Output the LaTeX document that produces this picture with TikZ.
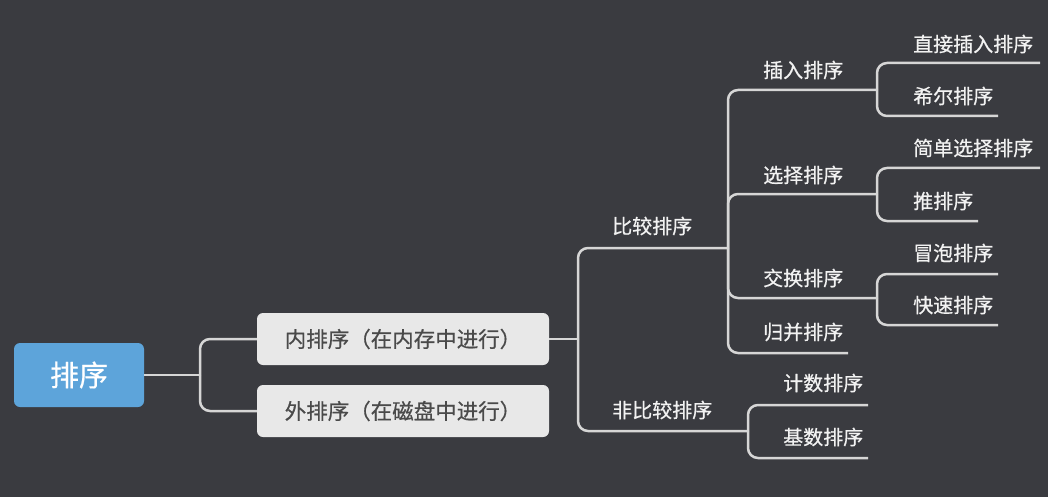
\documentclass[tikz,border=0pt]{standalone}
\usepackage{fontspec}
\newfontfamily\cjk[FakeBold=0.6]{Noto Sans CJK SC}
\definecolor{bgc}{HTML}{3A3B40}
\definecolor{linec}{HTML}{D6D6D6}
\definecolor{labc}{HTML}{F2F2F2}
\definecolor{rootc}{HTML}{5DA4DA}
\definecolor{boxc}{HTML}{E8E8E8}
\definecolor{boxtext}{HTML}{4A4A4A}
\begin{document}
\begin{tikzpicture}[x=1pt,y=-1pt,
  conn/.style={draw=linec, line width=2.5pt, rounded corners=10pt},
  lbl/.style={anchor=west, inner sep=0pt, text=labc, font=\cjk\fontsize{20}{20}\selectfont},
  rootbox/.style={fill=rootc, rounded corners=6pt, minimum width=130pt, minimum height=64pt, inner sep=0pt, text=white, font=\cjk\fontsize{29}{29}\selectfont},
  subbox/.style={fill=boxc, rounded corners=6pt, minimum width=292pt, minimum height=52pt, inner sep=0pt, text=boxtext, font=\cjk\fontsize{21.5}{21.5}\selectfont}]
\fill[bgc] (0,0) rectangle (1048,497);
\useasboundingbox (0,0) rectangle (1048,497);

% boxes
\node[rootbox] (root) at (79,375) {排序};
\node[subbox] (inner) at (403,339) {内排序（在内存中进行）};
\node[subbox] (outer) at (403,411) {外排序（在磁盘中进行）};

% labels
\node[lbl] (cmp) at (612,226) {比较排序};
\node[lbl] (ncmp) at (612,410) {非比较排序};
\node[lbl] (ins) at (763,70) {插入排序};
\node[lbl] (sel) at (763,175) {选择排序};
\node[lbl] (xch) at (763,278) {交换排序};
\node[lbl] (mrg) at (763,332) {归并排序};
\node[lbl] (dir) at (913,44) {直接插入排序};
\node[lbl] (shell) at (913,96) {希尔排序};
\node[lbl] (simp) at (913,148) {简单选择排序};
\node[lbl] (heap) at (913,201) {推排序};
\node[lbl] (bub) at (913,253) {冒泡排序};
\node[lbl] (quick) at (913,305) {快速排序};
\node[lbl] (cnt) at (783,383) {计数排序};
\node[lbl] (radix) at (783,437) {基数排序};

% junctions and underline ends
\coordinate (j0) at (200,375);
\coordinate (j1) at (578,339);
\coordinate (cmpE) at (728,248);
\coordinate (ncmpE) at (748,431);
\coordinate (insE) at (877,90);
\coordinate (selE) at (877,194);
\coordinate (xchE) at (877,298);
\coordinate (mrgE) at (848,353);
\coordinate (cntE) at (868,405);
\coordinate (radE) at (868,458);
\coordinate (dirE) at (1040,63);
\coordinate (shE) at (998,116);
\coordinate (simE) at (1040,168);
\coordinate (heapE) at (978,221);
\coordinate (bubE) at (998,274);
\coordinate (qE) at (998,325);

% connectors
\draw[conn] (root.east) -- (j0);
\draw[conn] (j0) |- (inner.west);
\draw[conn] (j0) |- (outer.west);
\draw[conn] (inner.east) -- (j1);
\draw[conn] (j1) |- (cmpE);
\draw[conn] (j1) |- (ncmpE);
\draw[conn] (cmpE) |- (insE);
\draw[conn] (cmpE) |- (selE);
\draw[conn] (cmpE) |- (xchE);
\draw[conn] (cmpE) |- (mrgE);
\draw[conn] (ncmpE) |- (cntE);
\draw[conn] (ncmpE) |- (radE);
\draw[conn] (insE) |- (dirE);
\draw[conn] (insE) |- (shE);
\draw[conn] (selE) |- (simE);
\draw[conn] (selE) |- (heapE);
\draw[conn] (xchE) |- (bubE);
\draw[conn] (xchE) |- (qE);
\end{tikzpicture}
\end{document}
